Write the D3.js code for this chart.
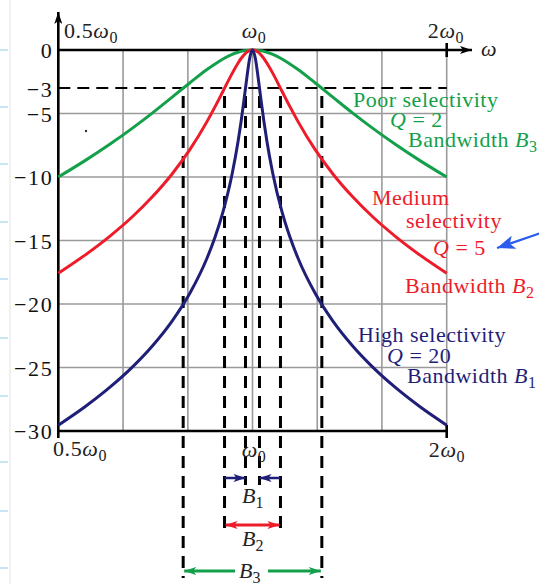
<!DOCTYPE html>
<html>
<head>
<meta charset="utf-8">
<script src="https://cdn.jsdelivr.net/npm/d3@7"></script>
<style>
  html, body { margin: 0; padding: 0; background: #fff; }
  svg { display: block; }
  text { font-family: "Liberation Serif", "Times New Roman", serif; }
</style>
</head>
<body>
<svg id="chart" width="539" height="584"></svg>
<script>
// ---- data ----
const freqRatio = [0.5, 0.55, 0.6, 0.65, 0.7, 0.75, 0.8, 0.85, 0.875, 0.9, 0.93, 0.95, 0.96, 0.97, 0.98, 0.99, 1,
  1.0101, 1.0204, 1.0309, 1.0417, 1.0526, 1.0753, 1.1111, 1.1429, 1.1765, 1.25, 1.3333, 1.4286, 1.5385, 1.6667, 1.8182, 2];
const gainQ2 = [-10, -8.71, -7.44, -6.19, -4.95, -3.73, -2.58, -1.54, -1.10, -0.71, -0.35, -0.18, -0.11, -0.06, -0.03, -0.01, 0,
  -0.01, -0.03, -0.06, -0.11, -0.18, -0.35, -0.71, -1.10, -1.54, -2.58, -3.73, -4.95, -6.19, -7.44, -8.71, -10];
const gainQ5 = [-17.58, -16.15, -14.69, -13.17, -11.54, -9.78, -7.83, -5.64, -4.46, -3.25, -1.84, -1.02, -0.67, -0.39, -0.17, -0.04, 0,
  -0.04, -0.17, -0.39, -0.67, -1.02, -1.84, -3.25, -4.46, -5.64, -7.83, -9.78, -11.54, -13.17, -14.69, -16.15, -17.58];
const gainQ20 = [-29.54, -28.09, -26.59, -25.01, -23.29, -21.37, -19.14, -16.40, -14.73, -12.75, -9.75, -7.17, -5.64, -3.95, -2.18, -0.65, 0,
  -0.65, -2.18, -3.95, -5.64, -7.17, -9.75, -12.75, -14.73, -16.40, -19.14, -21.37, -23.29, -25.01, -26.59, -28.09, -29.54];
const yTickValues = [0, -3, -5, -10, -15, -20, -25, -30];
const yGridValues = [0, -5, -10, -15, -20, -25, -30];
const xGridValues = [0.5, 0.63, 0.794, 1, 1.26, 1.587, 2];
const halfPowerDb = -3;
// -3 dB band edges (lower, upper) for B3 (Q=2), B2 (Q=5), B1 (Q=20)
const bandB3 = [0.7808, 1.2808];
const bandB2 = [0.905, 1.105];
const bandB1 = [0.9753, 1.0253];

// ---- drawing ----
const svg = d3.select("#chart");
const GREEN = "#14a04a", RED = "#ee1c2a", NAVY = "#1f1f78", GRID = "#9a9a9a";

const x = d3.scaleLog().domain([0.5, 2]).range([58.3, 446.7]);
const y = d3.scaleLinear().domain([-30, 0]).range([431, 50]);

// page decorations on the left edge
svg.append("line").attr("x1", 10).attr("x2", 10).attr("y1", 0).attr("y2", 584)
  .attr("stroke", "#ececec").attr("stroke-width", 1.5);
[50, 107, 164, 222, 279, 338, 396, 462, 511, 568].forEach(v => {
  svg.append("line").attr("x1", 0).attr("x2", 8).attr("y1", v).attr("y2", v)
    .attr("stroke", "#b5dcf2").attr("stroke-width", 1.5);
});

// markers
const defs = svg.append("defs");
function marker(id, color, w, h) {
  w = w || 12; h = h || 8;
  defs.append("marker").attr("id", id).attr("viewBox", `0 0 ${w} ${h}`)
    .attr("refX", w).attr("refY", h / 2).attr("markerWidth", w).attr("markerHeight", h)
    .attr("markerUnits", "userSpaceOnUse").attr("orient", "auto-start-reverse")
    .append("path").attr("d", `M0,0 L${w},${h / 2} L0,${h} L${w * 0.25},${h / 2} Z`).attr("fill", color);
}
marker("arG", GREEN); marker("arR", RED); marker("arN", NAVY); marker("arK", "#000");
marker("arB", "#2a5cf0", 18, 14);

// grid
const g = svg.append("g");
g.selectAll(".gx").data(xGridValues).join("line")
  .attr("x1", d => x(d)).attr("x2", d => x(d)).attr("y1", y(0)).attr("y2", y(-30))
  .attr("stroke", GRID).attr("stroke-width", 1.6);
g.selectAll(".gy").data(yGridValues).join("line")
  .attr("x1", x(0.5)).attr("x2", x(2)).attr("y1", d => y(d)).attr("y2", d => y(d))
  .attr("stroke", GRID).attr("stroke-width", 1.6);

// -3 dB dashed line
g.append("line").attr("x1", x(0.5)).attr("x2", x(2)).attr("y1", y(halfPowerDb)).attr("y2", y(halfPowerDb))
  .attr("stroke", "#000").attr("stroke-width", 2).attr("stroke-dasharray", "12,7");

// vertical dashed lines at band edges
const bands = [
  {b: bandB3, end: 578},
  {b: bandB2, end: 530},
  {b: bandB1, end: 485}
];
bands.forEach(o => {
  o.b.forEach(f => {
    g.append("line").attr("x1", x(f)).attr("x2", x(f)).attr("y1", y(halfPowerDb) + 8).attr("y2", o.end)
      .attr("stroke", "#000").attr("stroke-width", 3).attr("stroke-dasharray", "12,8");
  });
});

// axes (black lines)
g.append("line").attr("x1", x(0.5)).attr("x2", 472).attr("y1", y(0)).attr("y2", y(0))
  .attr("stroke", "#000").attr("stroke-width", 2.6).attr("marker-end", "url(#arK)");
g.append("line").attr("x1", x(0.5)).attr("x2", x(0.5)).attr("y1", 438).attr("y2", 12)
  .attr("stroke", "#000").attr("stroke-width", 2.6).attr("marker-end", "url(#arK)");
g.append("line").attr("x1", x(0.5)).attr("x2", x(2)).attr("y1", y(-30)).attr("y2", y(-30))
  .attr("stroke", "#000").attr("stroke-width", 2.6);
g.append("line").attr("x1", x(2)).attr("x2", x(2)).attr("y1", 43).attr("y2", 57)
  .attr("stroke", "#000").attr("stroke-width", 2.6);
g.append("line").attr("x1", x(2)).attr("x2", x(2)).attr("y1", 425).attr("y2", 438)
  .attr("stroke", "#000").attr("stroke-width", 2.6);

// y tick labels via d3 axis
const yAxis = d3.axisLeft(y).tickValues(yTickValues).tickSize(0).tickPadding(5)
  .tickFormat(d => d === 0 ? "0" : "\u2212" + Math.abs(d));
const ya = svg.append("g").attr("transform", `translate(${x(0.5)},0)`).call(yAxis);
ya.select(".domain").remove();
ya.selectAll("text").attr("font-family", "Liberation Serif").attr("font-size", 22)
  .attr("letter-spacing", 1.6).attr("fill", "#111").attr("dy", "0.36em");

// curves
const line = d3.line().x((d, i) => x(freqRatio[i])).y(d => y(d)).curve(d3.curveMonotoneX);
[[gainQ2, GREEN], [gainQ5, RED], [gainQ20, NAVY]].forEach(([s, c]) => {
  svg.append("path").attr("d", line(s)).attr("fill", "none").attr("stroke", c).attr("stroke-width", 3);
});

// math label helper
function omegaLabel(px, py, prefix, anchor) {
  const t = svg.append("text").attr("x", px).attr("y", py).attr("font-size", 22).attr("fill", "#222")
    .attr("letter-spacing", 0.6).attr("text-anchor", anchor || "start");
  if (prefix) t.append("tspan").text(prefix);
  t.append("tspan").attr("font-style", "italic").text("\u03c9");
  t.append("tspan").attr("font-size", 16).attr("dy", 5).text("0");
  return t;
}
omegaLabel(64, 38, "0.5");
omegaLabel(254, 38, "", "middle");
omegaLabel(446, 38, "2", "middle");
svg.append("text").attr("x", 481).attr("y", 56).attr("font-size", 22).attr("font-style", "italic").attr("fill", "#222").text("\u03c9");
omegaLabel(53, 456, "0.5");
omegaLabel(254, 457, "", "middle");
omegaLabel(447, 457, "2", "middle");

// annotations
function ann(px, py, color, parts) {
  const t = svg.append("text").attr("x", px).attr("y", py).attr("font-size", 22)
    .attr("letter-spacing", 0.5).attr("fill", color);
  parts.forEach(p => {
    const s = t.append("tspan").text(p.t);
    if (p.i) s.attr("font-style", "italic");
    if (p.sub) s.attr("font-size", 16).attr("dy", 5);
  });
}
ann(353, 107, GREEN, [{t: "Poor selectivity"}]);
ann(390, 127, GREEN, [{t: "Q", i: 1}, {t: " = 2"}]);
ann(408, 147, GREEN, [{t: "Bandwidth "}, {t: "B", i: 1}, {t: "3", sub: 1}]);
ann(372, 205, RED, [{t: "Medium"}]);
ann(406, 228, RED, [{t: "selectivity"}]);
ann(433, 255, RED, [{t: "Q", i: 1}, {t: " = 5"}]);
ann(405, 293, RED, [{t: "Bandwidth "}, {t: "B", i: 1}, {t: "2", sub: 1}]);
ann(358, 342, NAVY, [{t: "High selectivity"}]);
ann(387, 363, NAVY, [{t: "Q", i: 1}, {t: " = 20"}]);
ann(407, 383, NAVY, [{t: "Bandwidth "}, {t: "B", i: 1}, {t: "1", sub: 1}]);

// bandwidth arrows
const yB1 = 478, yB2 = 525, yB3 = 571;
svg.append("line").attr("x1", x(bandB2[0])).attr("x2", x(bandB1[0])).attr("y1", yB1).attr("y2", yB1)
  .attr("stroke", NAVY).attr("stroke-width", 2.5).attr("marker-end", "url(#arN)");
svg.append("line").attr("x1", x(bandB2[1])).attr("x2", x(bandB1[1])).attr("y1", yB1).attr("y2", yB1)
  .attr("stroke", NAVY).attr("stroke-width", 2.5).attr("marker-end", "url(#arN)");
svg.append("line").attr("x1", x(bandB2[0]) + 1).attr("x2", x(bandB2[1]) - 1).attr("y1", yB2).attr("y2", yB2)
  .attr("stroke", RED).attr("stroke-width", 3).attr("marker-start", "url(#arR)").attr("marker-end", "url(#arR)");
svg.append("line").attr("x1", x(bandB3[0]) + 1).attr("x2", 235).attr("y1", yB3).attr("y2", yB3)
  .attr("stroke", GREEN).attr("stroke-width", 3).attr("marker-start", "url(#arG)");
svg.append("line").attr("x1", 268).attr("x2", x(bandB3[1]) - 1).attr("y1", yB3).attr("y2", yB3)
  .attr("stroke", GREEN).attr("stroke-width", 3).attr("marker-end", "url(#arG)");

function bLabel(px, py, n) {
  const t = svg.append("text").attr("x", px).attr("y", py).attr("font-size", 22).attr("fill", "#222");
  t.append("tspan").attr("font-style", "italic").text("B");
  t.append("tspan").attr("font-size", 16).attr("dy", 5).text(n);
}
bLabel(242, 503, "1");
bLabel(242, 546, "2");
bLabel(239, 578, "3");

// blue pointer arrow at right
svg.append("line").attr("x1", 541).attr("x2", 497).attr("y1", 233).attr("y2", 248)
  .attr("stroke", "#2a5cf0").attr("stroke-width", 2.2).attr("marker-end", "url(#arB)");

// stray dot
svg.append("circle").attr("cx", 86).attr("cy", 131).attr("r", 1.2).attr("fill", "#333");
</script>
</body>
</html>
